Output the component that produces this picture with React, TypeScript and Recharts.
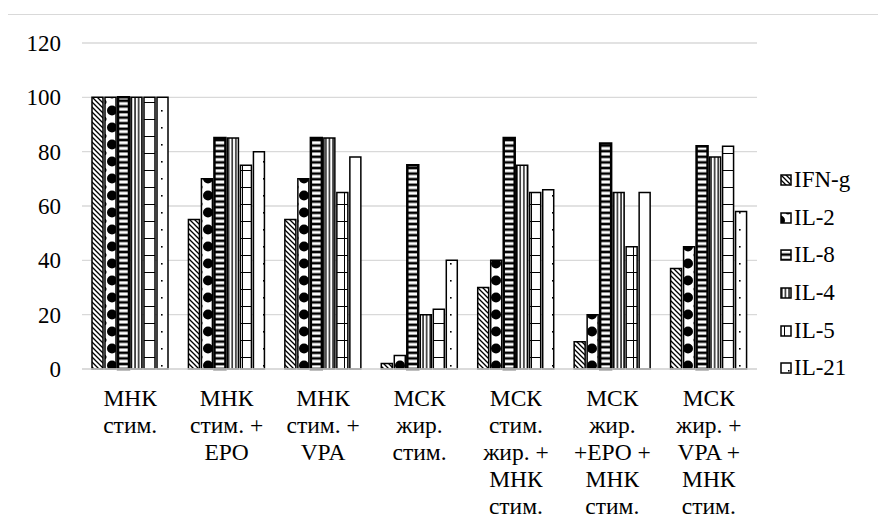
import { BarChart, Bar, XAxis, YAxis, CartesianGrid, Legend } from 'recharts';

const categories = [
  ['МНК', 'стим.'],
  ['МНК', 'стим. +', 'EPO'],
  ['МНК', 'стим. +', 'VPA'],
  ['МСК', 'жир.', 'стим.'],
  ['МСК', 'стим.', 'жир. +', 'МНК', 'стим.'],
  ['МСК', 'жир.', '+EPO +', 'МНК', 'стим.'],
  ['МСК', 'жир. +', 'VPA +', 'МНК', 'стим.'],
];

const ifnG = [100, 55, 55, 2, 30, 10, 37];
const il2 = [100, 70, 70, 5, 40, 20, 45];
const il8 = [100, 85, 85, 75, 85, 83, 82];
const il4 = [100, 85, 85, 20, 75, 65, 78];
const il5 = [100, 75, 65, 22, 65, 45, 82];
const il21 = [100, 80, 78, 40, 66, 65, 58];

const yTicks = [0, 20, 40, 60, 80, 100, 120];

const series = [
  { key: 'ifnG', name: 'IFN-g', values: ifnG, fill: 'url(#pDiag)', width: 1.5 },
  { key: 'il2', name: 'IL-2', values: il2, fill: 'url(#pScallop)', width: 1.5 },
  { key: 'il8', name: 'IL-8', values: il8, fill: 'url(#pHoriz)', width: 2.5 },
  { key: 'il4', name: 'IL-4', values: il4, fill: 'url(#pVert)', width: 1.5 },
  { key: 'il5', name: 'IL-5', values: il5, fill: 'url(#pGrid)', width: 1.5 },
  { key: 'il21', name: 'IL-21', values: il21, fill: 'url(#pDots)', width: 1.5 },
];

const data = categories.map((lines, i) => {
  const row: Record<string, any> = { name: lines.join(' ') };
  series.forEach((s) => {
    row[s.key] = s.values[i];
  });
  return row;
});

const FONT = "'Liberation Serif', 'Times New Roman', serif";
const FONT_SIZE = 23;

// multi-line category label, one tspan per line
function CategoryTick({ x, y, payload }: any) {
  const lines: string[] = categories[payload.index] ?? [payload.value];
  return (
    <text x={x} y={y} textAnchor="middle" fontFamily={FONT} fontSize={23.5} fill="#000">
      {lines.map((line, i) => (
        <tspan key={i} x={x} dy={i === 0 ? 31 : 27}>
          {line}
        </tspan>
      ))}
    </text>
  );
}

function LegendBox() {
  return (
    <div style={{ fontFamily: FONT, fontSize: FONT_SIZE, color: '#000' }}>
      {series.map((s) => (
        <div key={s.key} style={{ height: 37.7, display: 'flex', alignItems: 'center' }}>
          <svg width={12} height={12} style={{ marginRight: 2 }}>
            <rect x={1} y={1} width={10} height={10} fill={s.fill} stroke="#000" strokeWidth={1.5} />
          </svg>
          <span>{s.name}</span>
        </div>
      ))}
    </div>
  );
}

export default function App() {
  return (
    <div
      style={{
        position: 'relative',
        width: 886,
        height: 530,
        margin: -8,
        overflow: 'hidden',
        background: '#fff',
      }}
    >
      <div
        style={{
          position: 'absolute',
          left: 7,
          top: 14,
          width: 900,
          height: 540,
          border: '1px solid #d9d9d9',
        }}
      />
      <BarChart
        width={886}
        height={530}
        data={data}
        margin={{ top: 43, right: 25, bottom: 0, left: 0 }}
        barCategoryGap={10}
        barGap={2}
        style={{ position: 'absolute', left: 0, top: 0 }}
      >
        <defs>
          <pattern id="pDiag" patternUnits="userSpaceOnUse" width={5} height={5}>
            <rect width={5} height={5} fill="#fff" />
            <path d="M0,0 L5,5 M-1,4 L1,6 M4,-1 L6,1" stroke="#000" strokeWidth={1.3} />
          </pattern>
          <pattern id="pScallop" patternUnits="userSpaceOnUse" width={16} height={17}>
            <rect width={16} height={17} fill="#fff" />
            <circle cx={0} cy={8.5} r={5} fill="#000" />
            <circle cx={16} cy={8.5} r={5} fill="#000" />
            <circle cx={8} cy={0} r={2.5} fill="#000" />
            <circle cx={8} cy={17} r={2.5} fill="#000" />
          </pattern>
          <pattern id="pHoriz" patternUnits="userSpaceOnUse" width={4} height={5.6}>
            <rect width={4} height={5.6} fill="#000" />
            <rect y={1.3} width={4} height={3} fill="#fff" />
          </pattern>
          <pattern id="pVert" patternUnits="userSpaceOnUse" width={3.6} height={4}>
            <rect width={3.6} height={4} fill="#fff" />
            <rect x={1.2} width={1.3} height={4} fill="#000" />
          </pattern>
          <pattern id="pGrid" patternUnits="userSpaceOnUse" width={17} height={17}>
            <rect width={17} height={17} fill="#fff" />
            <path d="M0,0.5 H17 M4.5,0 V17" stroke="#000" strokeWidth={1} />
          </pattern>
          <pattern id="pDots" patternUnits="userSpaceOnUse" width={17} height={17}>
            <rect width={17} height={17} fill="#fff" />
            <rect x={8} y={8} width={1.6} height={1.6} fill="#000" />
          </pattern>
        </defs>
        <CartesianGrid vertical={false} stroke="#d9d9d9" strokeWidth={1.3} />
        <XAxis
          dataKey="name"
          height={161}
          interval={0}
          tickLine={false}
          axisLine={{ stroke: '#d9d9d9', strokeWidth: 1.3 }}
          tickMargin={0}
          tick={<CategoryTick />}
        />
        <YAxis
          width={82}
          domain={[0, 120]}
          ticks={yTicks}
          axisLine={false}
          tickLine={false}
          tickMargin={15}
          tick={{ fontFamily: FONT, fontSize: FONT_SIZE, fill: '#000' }}
        />
        <Legend
          layout="vertical"
          align="right"
          verticalAlign="top"
          content={<LegendBox />}
          wrapperStyle={{ width: 104, top: 161, paddingLeft: 23, boxSizing: 'border-box' }}
        />
        {series.map((s) => (
          <Bar
            key={s.key}
            dataKey={s.key}
            name={s.name}
            fill={s.fill}
            stroke="#000"
            strokeWidth={s.width}
            isAnimationActive={false}
          />
        ))}
      </BarChart>
    </div>
  );
}
